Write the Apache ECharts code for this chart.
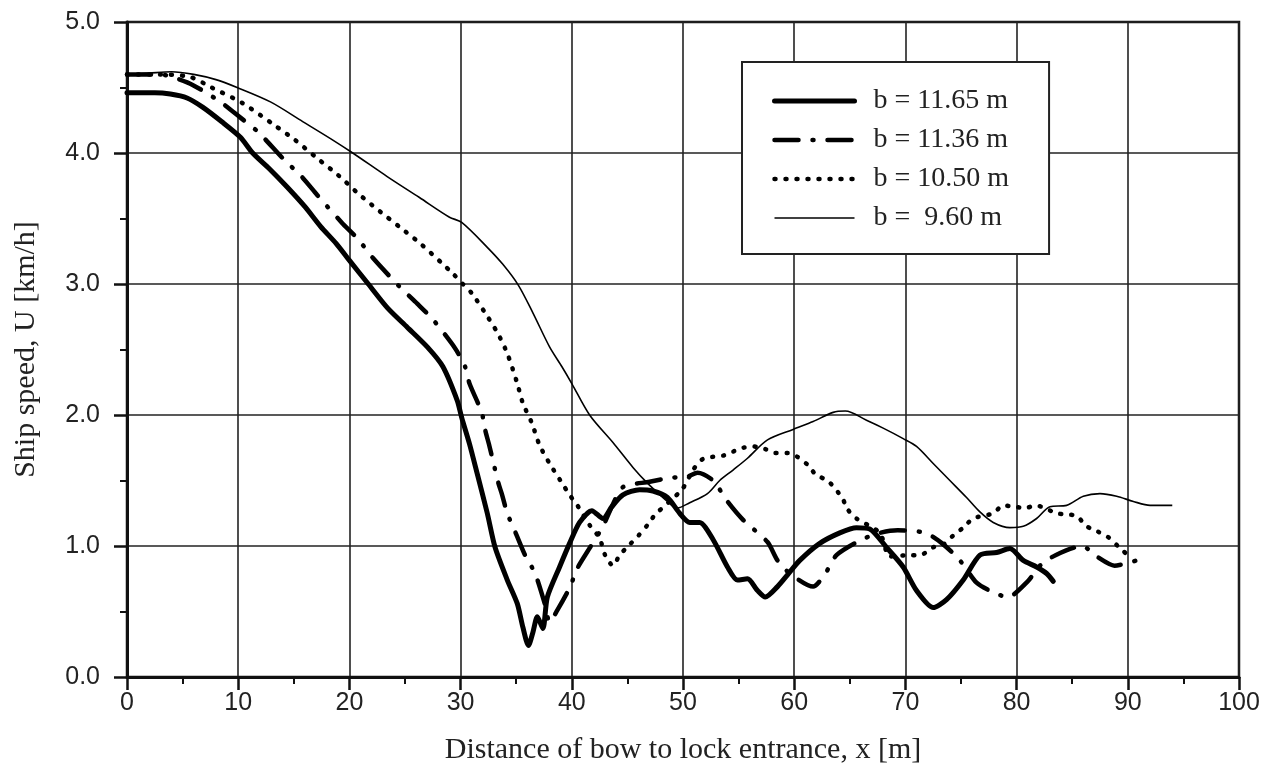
<!DOCTYPE html>
<html>
<head>
<meta charset="utf-8">
<title>Ship speed</title>
<script src="https://cdn.jsdelivr.net/npm/echarts@6/dist/echarts.min.js"></script>
<style>
html,body{margin:0;padding:0;background:#fff;}
#main{width:1277px;height:778px;}
</style>
</head>
<body>
<div id="main"></div>
<script>
// legend names
var names = ['b = 11.65 m', 'b = 11.36 m', 'b = 10.50 m', 'b =  9.60 m'];

// b = 11.65 m  (thick solid)
var x1165 = [0, 2.5, 3.9, 5.4, 6.8, 8.5, 10.2, 11.3, 12.8, 14.4, 16, 17.4, 18.8, 20, 21.7, 23.4, 25.2, 27, 28.4, 29.7, 30.1, 30.8, 31.5, 32.4, 33.1, 34.2, 35.1, 35.6, 36.1, 36.5, 36.9, 37.4, 37.8, 38.9, 39.8, 40.7, 41.8, 42.8, 43.6, 44.6, 46.1, 47.3, 48.6, 49.7, 50.6, 51.5, 52.7, 54, 54.9, 55.8, 56.7, 57.4, 58.5, 59.4, 60.5, 62.3, 64.1, 65.6, 66.8, 68.3, 69.8, 71, 72.5, 73.7, 75.2, 76.7, 78.2, 79.4, 80.6, 81.8, 82.7, 83.3];
var u1165 = [4.46, 4.46, 4.45, 4.42, 4.35, 4.24, 4.12, 4.0, 3.88, 3.74, 3.59, 3.44, 3.31, 3.18, 3.0, 2.82, 2.67, 2.52, 2.37, 2.11, 1.98, 1.78, 1.55, 1.25, 0.99, 0.74, 0.56, 0.38, 0.24, 0.34, 0.46, 0.37, 0.61, 0.84, 1.02, 1.18, 1.27, 1.21, 1.3, 1.39, 1.43, 1.42, 1.37, 1.25, 1.18, 1.18, 1.05, 0.84, 0.74, 0.75, 0.66, 0.61, 0.69, 0.78, 0.89, 1.02, 1.1, 1.14, 1.13, 0.99, 0.84, 0.66, 0.53, 0.59, 0.74, 0.93, 0.95, 0.98, 0.89, 0.84, 0.79, 0.73];

// b = 11.36 m  (dash dot)
var x1136 = [0, 3, 4.1, 5.9, 8.4, 10.2, 11.8, 14, 15.7, 17.1, 19.3, 20.8, 22.1, 24.5, 26.1, 27.5, 29.5, 30.4, 30.8, 31.9, 32.2, 32.6, 33.4, 33.7, 34.2, 35.1, 35.8, 36.7, 37.6, 38, 38.7, 39.8, 40.5, 41.5, 42.8, 43.6, 44.6, 47, 48.8, 50.4, 51.3, 52.7, 54, 55.4, 57.6, 58.5, 59.6, 61.7, 62.8, 63.8, 66.1, 67.7, 69.3, 71.8, 73.3, 74.9, 76.4, 77.8, 79.2, 81, 82.1, 83.5, 85.9, 87.2, 88.8, 90.8];
var u1136 = [4.6, 4.6, 4.58, 4.52, 4.39, 4.27, 4.16, 3.96, 3.82, 3.68, 3.47, 3.34, 3.2, 2.98, 2.85, 2.73, 2.51, 2.37, 2.24, 2.02, 1.89, 1.76, 1.48, 1.4, 1.25, 1.07, 0.93, 0.79, 0.55, 0.42, 0.51, 0.68, 0.83, 0.97, 1.15, 1.3, 1.45, 1.49, 1.52, 1.53, 1.56, 1.5, 1.34, 1.2, 1.03, 0.89, 0.79, 0.69, 0.79, 0.93, 1.05, 1.1, 1.12, 1.1, 1.02, 0.89, 0.72, 0.65, 0.61, 0.73, 0.85, 0.93, 1.0, 0.92, 0.85, 0.89];

// b = 10.50 m  (dotted)
var x1050 = [0, 3, 5.7, 7.6, 10.4, 13.3, 15.1, 17.1, 19, 20.8, 22.8, 24.6, 26.5, 28.3, 29.3, 30.2, 31, 32.2, 33.3, 34.2, 35.1, 35.6, 36.4, 37.1, 38, 39.2, 39.8, 40.5, 41.6, 42.5, 43, 43.7, 44.3, 45.2, 46, 46.8, 47.5, 49.9, 50.9, 51.7, 52.6, 53.6, 54.5, 55.4, 56.3, 57.4, 58.3, 59.4, 60.3, 61.2, 62, 63, 64.3, 64.8, 65.6, 67.7, 68.6, 70.4, 71.3, 72.5, 73.4, 74.3, 75.2, 76.1, 77.9, 78.8, 79.7, 80.8, 81.7, 83.6, 84.5, 85.4, 86.3, 87.3, 88.2, 89.1, 90];
var u1050 = [4.6, 4.6, 4.58, 4.5, 4.38, 4.21, 4.1, 3.96, 3.83, 3.69, 3.55, 3.43, 3.3, 3.16, 3.08, 3.0, 2.93, 2.78, 2.63, 2.47, 2.24, 2.09, 1.94, 1.77, 1.63, 1.47, 1.39, 1.31, 1.16, 1.06, 0.93, 0.85, 0.93, 1.01, 1.08, 1.16, 1.24, 1.43, 1.58, 1.66, 1.68, 1.69, 1.72, 1.75, 1.76, 1.74, 1.71, 1.71, 1.68, 1.62, 1.54, 1.5, 1.37, 1.28, 1.21, 1.1, 0.92, 0.93, 0.93, 0.99, 1.01, 1.08, 1.14, 1.21, 1.25, 1.31, 1.3, 1.29, 1.31, 1.25, 1.24, 1.23, 1.15, 1.11, 1.07, 1.0, 0.93];

// b = 9.60 m  (thin solid)
var x960 = [0, 2, 4, 6, 8, 9.9, 12.9, 15.8, 18.3, 20.3, 23.4, 26.3, 29, 30.1, 32.4, 33.8, 35.2, 36.5, 38, 39.1, 40, 41.6, 43.7, 45.5, 46.8, 48.2, 49.5, 50.6, 52.2, 53.3, 54.5, 55.8, 57.6, 59.9, 61.7, 63.5, 64.6, 66.5, 68, 69.8, 71, 72.5, 74, 75.5, 76.7, 77.9, 79.4, 80.6, 81.8, 83, 84.5, 86, 87.5, 89, 90.5, 92, 94];
var u960 = [4.6, 4.61, 4.62, 4.6, 4.56, 4.5, 4.39, 4.24, 4.11, 4.0, 3.82, 3.66, 3.51, 3.47, 3.28, 3.15, 2.99, 2.78, 2.52, 2.37, 2.24, 2.0, 1.79, 1.6, 1.48, 1.37, 1.29, 1.33, 1.4, 1.5, 1.58, 1.67, 1.81, 1.89, 1.95, 2.02, 2.03, 1.96, 1.9, 1.82, 1.76, 1.63, 1.5, 1.37, 1.26, 1.18, 1.14, 1.15, 1.21, 1.3, 1.31, 1.38, 1.4, 1.38, 1.34, 1.31, 1.31];

function pairs(xs, ys){
	var out = [];
	for(var i=0;i<xs.length;i++){
		out.push([xs[i], ys[i]]);
	}
	return out;
}

var serif = 'Liberation Serif';
var sans = 'Liberation Sans';

var chart = echarts.init(document.getElementById('main'));
var option = {
	animation: false,
	backgroundColor: '#fff',
	grid: {
		left: 127, right: 38, top: 22, bottom: 101,
		show: true, borderColor: '#111', borderWidth: 2.5
	},
	legend: {
		orient: 'vertical',
		left: 742, top: 62,
		padding: [25, 40, 22, 30],
		itemWidth: 80, itemHeight: 14, itemGap: 11,
		backgroundColor: '#fff',
		borderColor: '#222', borderWidth: 2,
		data: names,
		// only the line sample, no circle
		itemStyle: {opacity: 0},
		lineStyle: {width: 'inherit'},
		textStyle: {
			fontFamily: serif, fontSize: 28, color: '#222',
			lineHeight: 28, padding: [0, 0, 0, 14]
		}
	},
	xAxis: {
		type: 'value', min: 0, max: 100, interval: 10,
		name: 'Distance of bow to lock entrance, x [m]',
		nameLocation: 'middle', nameGap: 58,
		nameTextStyle: {fontFamily: serif, fontSize: 30, color: '#222'},
		axisLine: {show: true, onZero: false, lineStyle: {color: '#111', width: 3}},
		axisTick: {show: true, length: 13, lineStyle: {color: '#111', width: 2.5}},
		minorTick: {show: true, splitNumber: 2, length: 7, lineStyle: {color: '#111', width: 2}},
		axisLabel: {fontFamily: sans, fontSize: 25, color: '#222', margin: 14},
		splitLine: {show: true, lineStyle: {color: '#222', width: 1.6}}
	},
	yAxis: {
		type: 'value', min: 0, max: 5, interval: 1,
		name: 'Ship speed, U [km/h]',
		nameLocation: 'middle', nameGap: 86,
		nameTextStyle: {fontFamily: serif, fontSize: 30, color: '#222'},
		axisLine: {show: true, onZero: false, lineStyle: {color: '#111', width: 3}},
		axisTick: {show: true, length: 13, lineStyle: {color: '#111', width: 2.5}},
		minorTick: {show: true, splitNumber: 2, length: 7, lineStyle: {color: '#111', width: 2}},
		axisLabel: {
			fontFamily: sans, fontSize: 25, color: '#222', margin: 27,
			formatter: function(v){ return v.toFixed(1); }
		},
		splitLine: {show: true, lineStyle: {color: '#222', width: 1.6}}
	},
	series: [
		{
			name: names[0], type: 'line', symbol: 'none', smooth: 0.25,
			data: pairs(x1165, u1165),
			lineStyle: {color: '#000', width: 5, cap: 'round', join: 'round'},
			itemStyle: {color: '#000'}
		},
		{
			name: names[1], type: 'line', symbol: 'none', smooth: 0.25,
			data: pairs(x1136, u1136),
			lineStyle: {color: '#000', width: 4.5, type: [24, 14, 1, 14], cap: 'round', join: 'round'},
			itemStyle: {color: '#000'}
		},
		{
			name: names[2], type: 'line', symbol: 'none', smooth: 0.25,
			data: pairs(x1050, u1050),
			lineStyle: {color: '#000', width: 4.5, type: [1, 10], cap: 'round'},
			itemStyle: {color: '#000'}
		},
		{
			name: names[3], type: 'line', symbol: 'none', smooth: 0.3,
			data: pairs(x960, u960),
			lineStyle: {color: '#000', width: 1.6},
			itemStyle: {color: '#000'}
		}
	]
};
chart.setOption(option);
</script>
</body>
</html>
